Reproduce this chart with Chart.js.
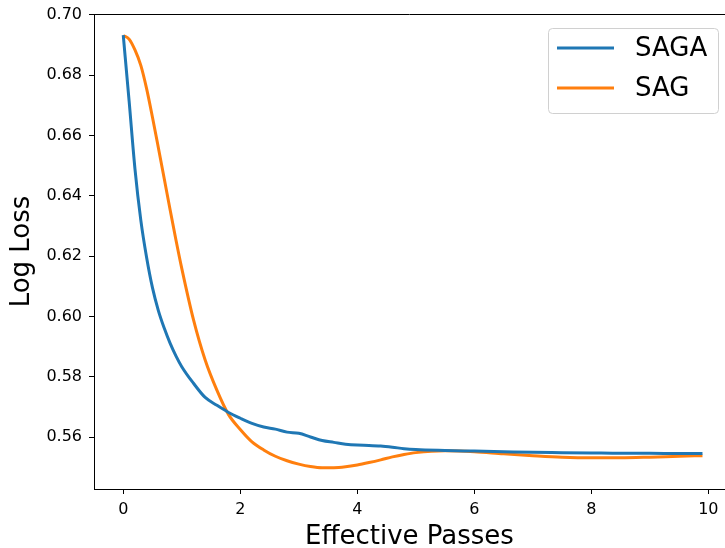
<!DOCTYPE html>
<html>
<head>
<meta charset="utf-8">
<script src="https://cdn.jsdelivr.net/npm/chart.js"></script>
<style>
  body { margin: 0; background: #fff; }
  canvas { display: block; }
</style>
</head>
<body>
<canvas id="lossChart" width="725" height="548"></canvas>
<script>
// effective passes (x) and log loss
const passes = [0, 0.1, 0.2, 0.3, 0.4, 0.5, 0.6, 0.7, 0.8, 0.9, 1.0, 1.2, 1.4, 1.6, 1.8,
  2.0, 2.2, 2.4, 2.6, 2.8, 3.0, 3.2, 3.4, 3.6, 3.8, 4.0, 4.2, 4.4, 4.6, 4.8, 5.0,
  5.5, 6.0, 6.5, 7.0, 7.5, 8.0, 8.5, 9.0, 9.5, 9.9];
const sagaLoss = [0.6933, 0.6715, 0.6490, 0.6320, 0.6195, 0.6095, 0.6020, 0.5962, 0.5912, 0.5870, 0.5834,
  0.5779, 0.5732, 0.5706, 0.5682, 0.5663, 0.5646, 0.5634, 0.5627, 0.5617, 0.5613, 0.5601, 0.5589,
  0.5583, 0.5577, 0.5574, 0.5573, 0.5571, 0.5567, 0.5562, 0.5559, 0.5556, 0.5554, 0.5552, 0.5550,
  0.5549, 0.5548, 0.5547, 0.5547, 0.5546, 0.5546];
const sagLoss = [0.6932, 0.6920, 0.6884, 0.6833, 0.6755, 0.6660, 0.6560, 0.6458, 0.6355, 0.6255, 0.6160,
  0.5990, 0.5856, 0.5756, 0.5675, 0.5626, 0.5585, 0.5558, 0.5537, 0.5522, 0.5511, 0.5503, 0.5499,
  0.5499, 0.5502, 0.5508, 0.5516, 0.5525, 0.5535, 0.5543, 0.5549, 0.5555, 0.5552, 0.5545, 0.5539,
  0.5534, 0.5532, 0.5532, 0.5534, 0.5537, 0.5539];
const seriesNames = ['SAGA', 'SAG'];
const xTicks = [0, 2, 4, 6, 8, 10];
const yTicks = [0.56, 0.58, 0.60, 0.62, 0.64, 0.66, 0.68, 0.70];

Chart.defaults.font.family = 'DejaVu Sans';
Chart.defaults.color = '#000';

function toPoints(ys) {
  return passes.map((x, i) => ({ x: x, y: ys[i] }));
}

// top spine + matplotlib style legend box
const framePlugin = {
  id: 'frame',
  afterDraw(chart) {
    const ctx = chart.ctx;
    const area = chart.chartArea;
    ctx.save();
    ctx.strokeStyle = '#000';
    ctx.lineWidth = 1;
    ctx.beginPath();
    ctx.moveTo(area.left, area.top + 0.5);
    ctx.lineTo(area.right, area.top + 0.5);
    ctx.stroke();

    // legend
    const bx = 548, by = 28, bw = 170, bh = 85;
    ctx.fillStyle = 'rgba(255,255,255,0.8)';
    ctx.strokeStyle = '#d0d0d0';
    ctx.lineWidth = 1;
    ctx.beginPath();
    ctx.roundRect(bx + 0.5, by + 0.5, bw, bh, 4);
    ctx.fill();
    ctx.stroke();
    ctx.font = '26px "DejaVu Sans"';
    ctx.textBaseline = 'middle';
    ctx.textAlign = 'left';
    chart.data.datasets.forEach((ds, i) => {
      const y = 48 + i * 40;
      ctx.strokeStyle = ds.borderColor;
      ctx.lineWidth = 3;
      ctx.beginPath();
      ctx.moveTo(557, y);
      ctx.lineTo(614, y);
      ctx.stroke();
      ctx.fillStyle = '#000';
      ctx.fillText(ds.label, 635, y + 1);
    });
    ctx.restore();
  }
};

new Chart(document.getElementById('lossChart'), {
  type: 'line',
  data: {
    datasets: [
      {
        label: seriesNames[0],
        data: toPoints(sagaLoss),
        borderColor: '#1f77b4',
        borderWidth: 3,
        pointRadius: 0,
        cubicInterpolationMode: 'monotone',
        fill: false
      },
      {
        label: seriesNames[1],
        data: toPoints(sagLoss),
        borderColor: '#ff7f0e',
        borderWidth: 3,
        pointRadius: 0,
        cubicInterpolationMode: 'monotone',
        fill: false
      }
    ]
  },
  options: {
    responsive: false,
    animation: false,
    layout: { padding: { top: 14, left: 0, right: 0, bottom: 0 } },
    plugins: {
      legend: { display: false },
      tooltip: { enabled: false }
    },
    scales: {
      x: {
        type: 'linear',
        min: -0.5,
        max: 10.285,
        afterBuildTicks: (scale) => { scale.ticks = xTicks.map(v => ({ value: v })); },
        afterFit: (scale) => {
          scale.height = 59;
          scale.paddingLeft = 0;
          scale.paddingRight = 0;
        },
        grid: { drawOnChartArea: false, drawTicks: true, tickLength: 5, color: '#000', lineWidth: 1 },
        border: { display: true, color: '#000', width: 1 },
        ticks: { font: { size: 16 }, padding: 6, maxRotation: 0, callback: (v) => String(v) },
        title: { display: true, text: 'Effective Passes', font: { size: 26, lineHeight: 0.85 }, padding: 0 }
      },
      y: {
        min: 0.54284,
        max: 0.70033,
        afterBuildTicks: (scale) => { scale.ticks = yTicks.map(v => ({ value: v })); },
        afterFit: (scale) => {
          scale.width = 94;
          scale.paddingTop = 0;
          scale.paddingBottom = 0;
        },
        grid: { drawOnChartArea: false, drawTicks: true, tickLength: 5, color: '#000', lineWidth: 1 },
        border: { display: true, color: '#000', width: 1 },
        ticks: { font: { size: 16 }, padding: 7, callback: (v) => v.toFixed(2) },
        title: { display: true, text: 'Log Loss', font: { size: 26, lineHeight: 0.85 }, padding: { top: 11, bottom: 0 } }
      }
    }
  },
  plugins: [framePlugin]
});
</script>
</body>
</html>
